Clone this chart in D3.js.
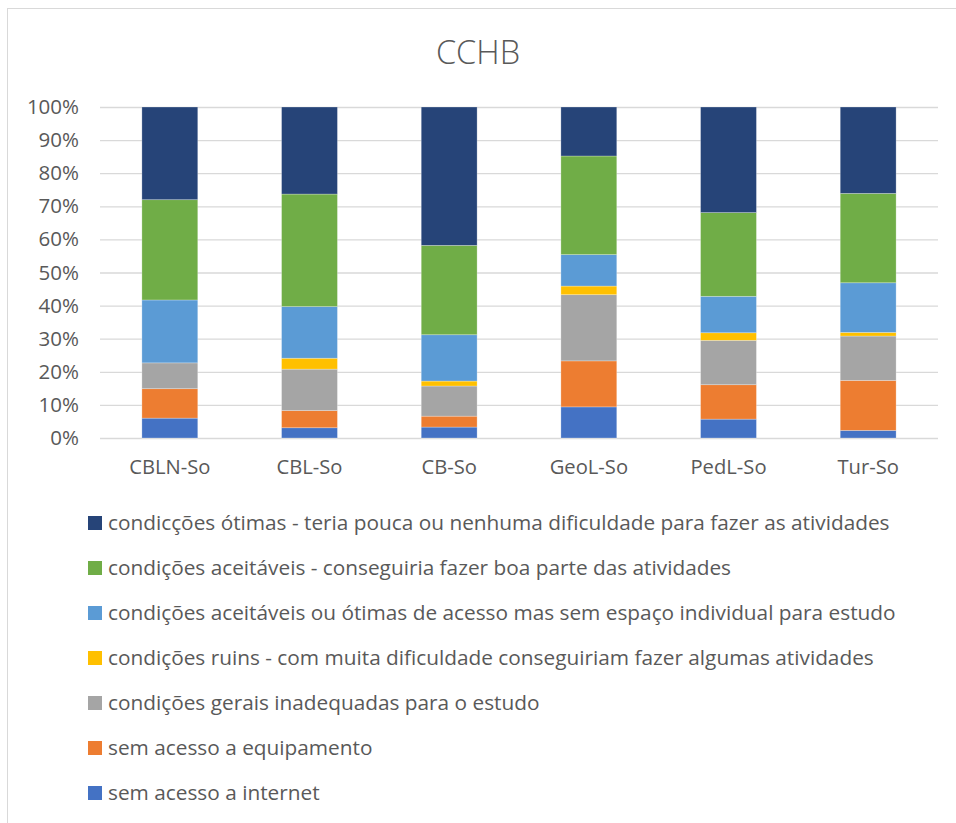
<!DOCTYPE html>
<html>
<head>
<meta charset="utf-8">
<script src="https://cdn.jsdelivr.net/npm/d3@7"></script>
<style>
	body { margin: 0; background: #fff; }
	svg text { font-family: "Open Sans", "Noto Sans", sans-serif; fill: #595959; }
</style>
</head>
<body>
<svg id="chart" width="956" height="823"></svg>
<script>
// Categories (x axis)
var categories = ['CBLN-So', 'CBL-So', 'CB-So', 'GeoL-So', 'PedL-So', 'Tur-So'];

// Series, bottom of the stack first (percentages)
var seriesNames = [
	'sem acesso a internet',
	'sem acesso a equipamento',
	'condições gerais inadequadas para o estudo',
	'condições ruins - com muita dificuldade conseguiriam fazer algumas atividades',
	'condições aceitáveis ou ótimas de acesso mas sem espaço individual para estudo',
	'condições aceitáveis - conseguiria fazer boa parte das atividades',
	'condicções ótimas - teria pouca ou nenhuma dificuldade para fazer as atividades'
];
var semInternet   = [6.0, 3.1, 3.3, 9.4, 5.7, 2.3];
var semEquip      = [8.9, 5.2, 3.3, 13.9, 10.4, 15.1];
var gerais        = [7.8, 12.5, 9.1, 20.0, 13.4, 13.4];
var ruins         = [0.0, 3.3, 1.5, 2.6, 2.3, 1.1];
var semEspaco     = [19.0, 15.6, 14.0, 9.5, 11.0, 15.0];
var aceitaveis    = [30.3, 34.0, 27.0, 29.8, 25.3, 27.0];
var otimas        = [28.0, 26.3, 41.8, 14.8, 31.9, 26.1];
var seriesColors  = ['#4472C4', '#ED7D31', '#A5A5A5', '#FFC000', '#5B9BD5', '#70AD47', '#264478'];

var yTicks = [0, 10, 20, 30, 40, 50, 60, 70, 80, 90, 100];

var allValues = [semInternet, semEquip, gerais, ruins, semEspaco, aceitaveis, otimas];

// Build rows for d3.stack
var rows = categories.map(function(c, i) {
	var r = { cat: c };
	seriesNames.forEach(function(s, k) { r[s] = allValues[k][i]; });
	return r;
});

var svg = d3.select('#chart');

// outer chart border
svg.append('rect')
	.attr('x', 7.5).attr('y', 8.5)
	.attr('width', 1000).attr('height', 1000)
	.attr('fill', 'none')
	.attr('stroke', '#D9D9D9')
	.attr('stroke-width', 1);

var plot = { left: 100, right: 938, top: 107, bottom: 438 };

var x = d3.scaleBand()
	.domain(categories)
	.range([plot.left, plot.right])
	.paddingInner(0.6)
	.paddingOuter(0.3);

var y = d3.scaleLinear()
	.domain([0, 100])
	.range([plot.bottom, plot.top]);

// gridlines
svg.append('g')
	.selectAll('line')
	.data(yTicks)
	.enter().append('line')
	.attr('x1', plot.left).attr('x2', plot.right)
	.attr('y1', function(d) { return y(d) + 0.5; })
	.attr('y2', function(d) { return y(d) + 0.5; })
	.attr('stroke', '#D9D9D9')
	.attr('stroke-width', 1.3);

// y axis labels
var yAxis = d3.axisLeft(y).tickValues(yTicks).tickSize(0).tickPadding(0)
	.tickFormat(function(d) { return d + '%'; });
var yg = svg.append('g').attr('transform', 'translate(79,0)').call(yAxis);
yg.select('.domain').remove();
yg.selectAll('text').style('font-size', '20.5px').attr('fill', '#595959');

// stacked bars
var stack = d3.stack().keys(seriesNames);
var layers = stack(rows);

svg.append('g')
	.selectAll('g')
	.data(layers)
	.enter().append('g')
	.attr('fill', function(d, i) { return seriesColors[i]; })
	.selectAll('rect')
	.data(function(d) { return d; })
	.enter().append('rect')
	.attr('x', function(d) { return x(d.data.cat); })
	.attr('width', x.bandwidth())
	.attr('y', function(d) { return y(d[1]); })
	.attr('height', function(d) { return y(d[0]) - y(d[1]); })
	.attr('stroke', '#ffffff')
	.attr('stroke-opacity', 0.35)
	.attr('stroke-width', 0.75);

// x axis labels
var xAxis = d3.axisBottom(x).tickSize(0).tickPadding(0);
var xg = svg.append('g').attr('transform', 'translate(0,' + 460 + ')').call(xAxis);
xg.select('.domain').remove();
xg.selectAll('text').style('font-size', '20.2px').attr('fill', '#595959');

// title
svg.append('text')
	.attr('x', 478).attr('y', 64)
	.attr('text-anchor', 'middle')
	.style('font-size', '32.5px')
	.style('font-weight', 300)
	.text('CCHB');

// legend, top series first
var legendItems = seriesNames.map(function(s, i) { return { name: s, color: seriesColors[i] }; }).reverse();
var leg = svg.append('g')
	.selectAll('g')
	.data(legendItems)
	.enter().append('g')
	.attr('transform', function(d, i) { return 'translate(88,' + (523 + i * 45) + ')'; });

leg.append('rect')
	.attr('x', 0).attr('y', -7)
	.attr('width', 14).attr('height', 14)
	.attr('fill', function(d) { return d.color; });

leg.append('text')
	.attr('x', 20).attr('y', 0)
	.attr('dy', '0.35em')
	.style('font-size', '20.8px')
	.text(function(d) { return d.name; });
</script>
</body>
</html>
